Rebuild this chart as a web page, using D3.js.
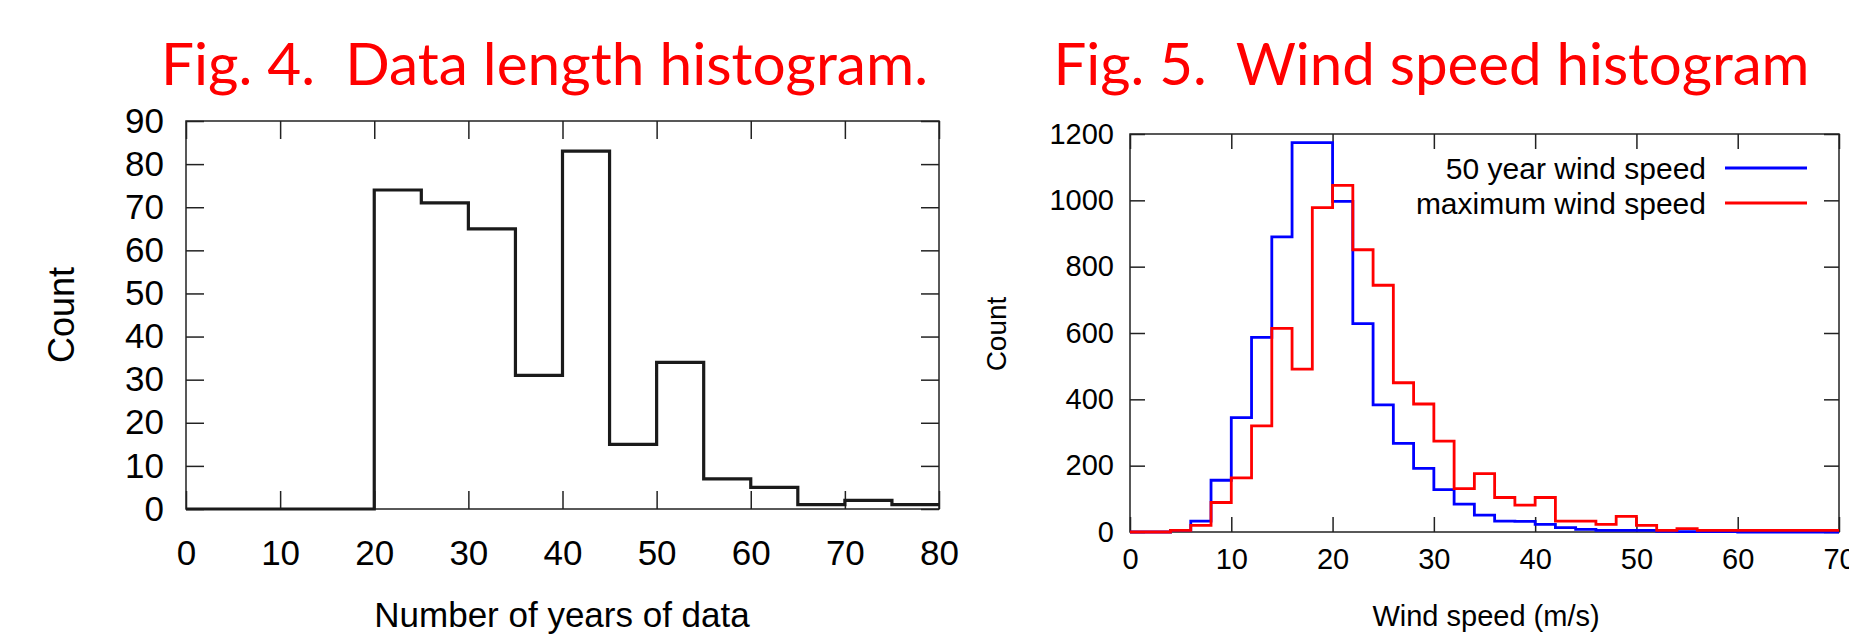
<!DOCTYPE html>
<html><head><meta charset="utf-8">
<script src="https://cdn.jsdelivr.net/npm/d3@7"></script>
<style>body{margin:0;background:#fff}svg{display:block}</style>
</head><body>
<svg id="c" width="1849" height="637"></svg>
<script>
// ---- data ----
const lengthBins = [0,5,10,15,20,25,30,35,40,45,50,55,60,65,70,75,80];
const lengthCounts = [0,0,0,0,74,71,65,31,83,15,34,7,5,1,2,1];
const lengthXTicks = [0,10,20,30,40,50,60,70,80];
const lengthYTicks = [0,10,20,30,40,50,60,70,80,90];

const windBins = [0,2,4,6,8,10,12,14,16,18,20,22,24,26,28,30,32,34,36,38,40,42,44,46,48,50,52,54,56,58,60,62,64,66,68,70];
const wind50yr = [0,0,5,33,156,345,587,890,1174,1174,997,628,383,267,192,128,84,51,33,32,23,13,8,5,5,5,2,1,1,1,0,0,0,0,0];
const windMax  = [0,0,5,20,89,163,320,614,491,978,1045,851,744,450,386,274,131,176,104,81,104,33,33,23,47,20,5,10,5,5,5,5,5,5,5];
const windXTicks = [0,10,20,30,40,50,60,70];
const windYTicks = [0,200,400,600,800,1000,1200];
const seriesNames = ["50 year wind speed","maximum wind speed"];
const seriesColors = ["#0000ff","#ff0000"];

const svg = d3.select("#c");
const FONT = "'Liberation Sans', Arial, sans-serif";

function stepPoints(bins, vals){
  const pts = vals.map((v,i)=>[bins[i], v]);
  pts.push([bins[bins.length-1], vals[vals.length-1]]);
  return pts;
}

function frame(g, x, y, xTicks, yTicks, opt){
  const [x0,x1] = x.range(), [y0,y1] = y.range();
  const ts = opt.tick;
  const fmt = d3.format("d");
  const ax = g.append("g").attr("transform",`translate(0,${y0})`)
    .call(d3.axisBottom(x).tickValues(xTicks).tickFormat(fmt).tickSizeInner(-ts).tickSizeOuter(0).tickPadding(opt.xpad));
  const ay = g.append("g").attr("transform",`translate(${x0},0)`)
    .call(d3.axisLeft(y).tickValues(yTicks).tickFormat(fmt).tickSizeInner(-ts).tickSizeOuter(0).tickPadding(opt.ypad));
  const at = g.append("g").attr("transform",`translate(0,${y1})`)
    .call(d3.axisTop(x).tickValues(xTicks).tickSizeInner(-ts).tickSizeOuter(0).tickFormat(""));
  const ar = g.append("g").attr("transform",`translate(${x1},0)`)
    .call(d3.axisRight(y).tickValues(yTicks).tickSizeInner(-ts).tickSizeOuter(0).tickFormat(""));
  [ax,ay,at,ar].forEach(a=>{
    a.select(".domain").remove();
    a.selectAll("line").attr("stroke","#222").attr("stroke-width",1.5);
    a.selectAll("text").attr("font-family",FONT).attr("font-size",opt.fs).attr("fill","#000");
  });
  g.append("rect").attr("x",x0).attr("y",y1).attr("width",x1-x0).attr("height",y0-y1)
    .attr("fill","none").attr("stroke","#222").attr("stroke-width",1.5);
}

// ---- Fig 4 ----
{
  const g = svg.append("g");
  const x = d3.scaleLinear().domain([0,80]).range([186,939]);
  const y = d3.scaleLinear().domain([0,90]).range([509,121]);
  frame(g, x, y, lengthXTicks, lengthYTicks, {tick:18, xpad:31, ypad:22, fs:35});
  const line = d3.line().x(d=>x(d[0])).y(d=>y(d[1])).curve(d3.curveStepAfter);
  g.append("path").attr("d", line(stepPoints(lengthBins, lengthCounts)))
    .attr("fill","none").attr("stroke","#1a1a1a").attr("stroke-width",3.2);
  g.append("text").attr("x",562).attr("y",627).attr("text-anchor","middle")
    .attr("font-family",FONT).attr("font-size",35).text("Number of years of data");
  g.append("text").attr("transform","translate(61,315) rotate(-90)").attr("text-anchor","middle")
    .attr("dy","0.35em").attr("font-family",FONT).attr("font-size",36).text("Count");
  g.append("text").attr("x",161).attr("y",85).attr("fill","#ff0000")
    .attr("font-family","Lato, 'Open Sans', sans-serif").attr("font-size",58)
    .style("white-space","pre").attr("textLength",767).attr("lengthAdjust","spacingAndGlyphs")
    .text("Fig. 4.  Data length histogram.");
}

// ---- Fig 5 ----
{
  const g = svg.append("g");
  const x = d3.scaleLinear().domain([0,70]).range([1130,1839]);
  const y = d3.scaleLinear().domain([0,1200]).range([532,134]);
  frame(g, x, y, windXTicks, windYTicks, {tick:15, xpad:16, ypad:16, fs:29});
  const line = d3.line().x(d=>x(d[0])).y(d=>y(d[1])).curve(d3.curveStepAfter);
  [wind50yr, windMax].forEach((s,i)=>{
    g.append("path").attr("d", line(stepPoints(windBins, s)))
      .attr("fill","none").attr("stroke",seriesColors[i]).attr("stroke-width",2.8);
  });
  const ly = [168,203];
  seriesNames.forEach((n,i)=>{
    g.append("text").attr("x",1706).attr("y",ly[i]).attr("dy","0.35em").attr("text-anchor","end")
      .attr("font-family",FONT).attr("font-size",30).text(n);
    g.append("line").attr("x1",1725).attr("x2",1807).attr("y1",ly[i]).attr("y2",ly[i])
      .attr("stroke",seriesColors[i]).attr("stroke-width",2.8);
  });
  g.append("text").attr("x",1486).attr("y",626).attr("text-anchor","middle")
    .attr("font-family",FONT).attr("font-size",29).text("Wind speed (m/s)");
  g.append("text").attr("transform","translate(996,334) rotate(-90)").attr("text-anchor","middle")
    .attr("dy","0.35em").attr("font-family",FONT).attr("font-size",28).text("Count");
  g.append("text").attr("x",1053.5).attr("y",85).attr("fill","#ff0000")
    .attr("font-family","Lato, 'Open Sans', sans-serif").attr("font-size",58)
    .style("white-space","pre").attr("textLength",756).attr("lengthAdjust","spacingAndGlyphs")
    .text("Fig. 5.  Wind speed histogram");
}
</script>
</body></html>
